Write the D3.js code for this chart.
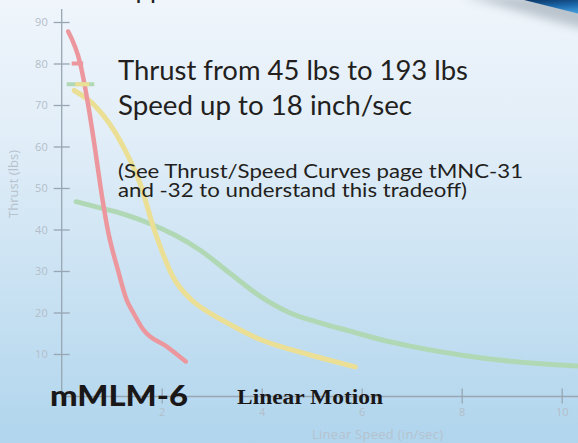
<!DOCTYPE html>
<html>
<head>
<meta charset="utf-8">
<script src="https://cdn.jsdelivr.net/npm/d3@7"></script>
<style>
	html, body { margin: 0; padding: 0; overflow: hidden; }
	.graphic { width: 578px; height: 443px; }
	.tick text { font-family: 'Open Sans', sans-serif; font-size: 11px; fill: #b3bec9; }
	.tick line { stroke: #98a6b3; stroke-width: 1.3; }
</style>
</head>
<body>
<div class="graphic"></div>
<script>
// thrust / speed readings (speed in in/sec, thrust in lbs)
var redSpeed = [0.13, 0.37, 0.53, 0.66, 0.78, 0.92, 1.13, 1.3, 1.43, 1.63, 2.1, 2.48];
var redThrust = [87.7, 80, 70, 60, 50, 40, 30, 23, 20, 15.9, 11.8, 8.2];

var yellowSpeed = [0.25, 0.65, 1.23, 1.57, 1.85, 2.23, 2.6, 3.0, 3.4, 3.97, 4.57, 5.17, 5.87];
var yellowThrust = [73.5, 70, 60, 51, 40, 28.5, 23.0, 19.6, 16.9, 13.5, 11.1, 9.1, 6.9];

var greenSpeed = [0.29, 0.77, 1.27, 1.77, 2.27, 2.77, 3.37, 3.97, 4.57, 5.17, 5.77, 6.37, 6.97, 8.37, 10.33, 10.7];
var greenThrust = [46.7, 45.2, 43.6, 41.4, 38.6, 35.0, 29.4, 23.9, 19.9, 17.5, 15.5, 13.5, 11.9, 9.1, 7.1, 6.9];

// little dashes near the top of the curves
var markThrust = [80, 75, 75];
var markFrom = [0.2, 0.1, 0.27];
var markTo = [0.43, 0.65, 0.55];
var markColor = ['red', 'green', 'yellow'];

var yTicks = [10, 20, 30, 40, 50, 60, 70, 80, 90];
var xTicks = [2, 4, 6, 8, 10];

var infoLines = ['Thrust from 45 lbs to 193 lbs', 'Speed up to 18 inch/sec'];
var noteLines = ['(See Thrust/Speed Curves page tMNC-31', 'and -32 to understand this tradeoff)'];

var chart = function () {

	var graphic = document.querySelector('.graphic');
	var width = 578;
	var height = 443;
	var svg;

	var colors = {
		red: '#ec979d',
		yellow: '#ebdf96',
		green: '#b1d8b5'
	};

	var x = d3.scaleLinear().domain([0, 10]).range([61.7, 561.7]);
	var y = d3.scaleLinear().domain([0, 90]).range([395.5, 22]);

	return {

		init: function () {
			this.setUpPlot();
			this.drawAxes();
			this.drawCurves();
			this.drawText();
		},

		setUpPlot: function () {

			svg = d3.select(graphic).append('svg').attr('width', width).attr('height', height);

			var defs = svg.append('defs');
			var bg = defs.append('linearGradient').attr('id', 'bg')
				.attr('x1', 0).attr('y1', 0).attr('x2', 0).attr('y2', 1);
			bg.append('stop').attr('offset', '0%').attr('stop-color', '#eff5fb');
			bg.append('stop').attr('offset', '30%').attr('stop-color', '#e2eef8');
			bg.append('stop').attr('offset', '100%').attr('stop-color', '#b0d5ed');

			var blue = defs.append('linearGradient').attr('id', 'swoosh')
				.attr('x1', 0).attr('y1', 0).attr('x2', 0.3).attr('y2', 1);
			blue.append('stop').attr('offset', '0%').attr('stop-color', '#0a2f5c');
			blue.append('stop').attr('offset', '60%').attr('stop-color', '#1c68ab');
			blue.append('stop').attr('offset', '100%').attr('stop-color', '#3b93d2');

			defs.append('filter').attr('id', 'blur')
				.attr('x', '-20%').attr('y', '-50%').attr('width', '140%').attr('height', '200%')
				.append('feGaussianBlur').attr('stdDeviation', 5);

			svg.append('rect').attr('width', width).attr('height', height).attr('fill', 'url(#bg)');

			// corner decoration
			svg.append('path')
				.attr('d', 'M462,-4 C505,6 545,20 590,30 L590,-4 Z')
				.attr('fill', '#7d8a96')
				.attr('opacity', 0.45)
				.attr('filter', 'url(#blur)');
			svg.append('path')
				.attr('d', 'M520,-1 C540,4 560,9 580,14 L580,-1 Z')
				.attr('fill', 'url(#swoosh)');
		},

		drawAxes: function () {

			var axisColor = '#98a6b3';

			var yAxis = svg.append('g')
				.attr('transform', 'translate(' + x(0) + ',0)')
				.call(d3.axisLeft(y).tickValues(yTicks).tickSize(8).tickPadding(6));
			yAxis.select('.domain').remove();
			yAxis.selectAll('.tick line').attr('x1', 8);

			var xAxis = svg.append('g')
				.attr('transform', 'translate(0,' + (y(0) + 1) + ')')
				.call(d3.axisBottom(x).tickValues(xTicks).tickSize(7).tickPadding(5));
			xAxis.select('.domain').remove();
			xAxis.selectAll('.tick line').attr('y1', -8);

			svg.append('line')
				.attr('x1', x(0)).attr('x2', x(0))
				.attr('y1', 9).attr('y2', y(0) + 1)
				.attr('stroke', axisColor).attr('stroke-width', 1.3);
			svg.append('line')
				.attr('x1', x(0)).attr('x2', width)
				.attr('y1', y(0) + 1).attr('y2', y(0) + 1)
				.attr('stroke', axisColor).attr('stroke-width', 1.3);

			svg.append('text')
				.attr('transform', 'translate(18,184) rotate(-90)')
				.attr('text-anchor', 'middle')
				.attr('font-family', 'Open Sans, sans-serif')
				.attr('font-size', 13)
				.attr('fill', '#b6c2cd')
				.attr('textLength', 68)
				.text('Thrust (lbs)');

			svg.append('text')
				.attr('x', 377.5).attr('y', 439)
				.attr('text-anchor', 'middle')
				.attr('font-family', 'Open Sans, sans-serif')
				.attr('font-size', 13)
				.attr('fill', '#b6c2cd')
				.attr('textLength', 131)
				.text('Linear Speed (in/sec)');
		},

		drawCurves: function () {

			var line = d3.line()
				.x(function (d) { return x(d[0]); })
				.y(function (d) { return y(d[1]); })
				.curve(d3.curveMonotoneX);

			var series = [
				{ name: 'green', pts: d3.zip(greenSpeed, greenThrust), w: 5 },
				{ name: 'yellow', pts: d3.zip(yellowSpeed, yellowThrust), w: 5 },
				{ name: 'red', pts: d3.zip(redSpeed, redThrust), w: 4.5 }
			];

			svg.append('g').selectAll('path')
				.data(series)
				.enter().append('path')
				.attr('d', function (d) { return line(d.pts); })
				.attr('fill', 'none')
				.attr('stroke', function (d) { return colors[d.name]; })
				.attr('stroke-width', function (d) { return d.w; })
				.attr('stroke-linecap', 'round')
				.attr('stroke-linejoin', 'round');

			svg.append('g').selectAll('line')
				.data(markThrust)
				.enter().append('line')
				.attr('x1', function (d, i) { return x(markFrom[i]); })
				.attr('x2', function (d, i) { return x(markTo[i]); })
				.attr('y1', function (d) { return y(d); })
				.attr('y2', function (d) { return y(d); })
				.attr('stroke', function (d, i) { return colors[markColor[i]]; })
				.attr('stroke-width', 4);
		},

		drawText: function () {

			var dark = '#231f20';
			var sans = 'Lato, sans-serif';

			// heading that runs off the top
			svg.append('text')
				.attr('x', 118).attr('y', -2)
				.attr('font-family', sans).attr('font-size', 26)
				.attr('fill', dark)
				.text('Applications');

			var infoY = [79.5, 115];
			var infoW = [350, 294];
			svg.append('g').selectAll('text')
				.data(infoLines)
				.enter().append('text')
				.attr('x', 118)
				.attr('y', function (d, i) { return infoY[i]; })
				.attr('font-family', sans).attr('font-size', 26)
				.attr('fill', dark)
				.attr('textLength', function (d, i) { return infoW[i]; })
				.attr('lengthAdjust', 'spacingAndGlyphs')
				.text(function (d) { return d; });

			var noteY = [178, 196.7];
			var noteW = [405, 349];
			svg.append('g').selectAll('text')
				.data(noteLines)
				.enter().append('text')
				.attr('x', 118)
				.attr('y', function (d, i) { return noteY[i]; })
				.attr('font-family', sans).attr('font-size', 18.5)
				.attr('fill', dark)
				.attr('textLength', function (d, i) { return noteW[i]; })
				.attr('lengthAdjust', 'spacingAndGlyphs')
				.text(function (d) { return d; });

			svg.append('text')
				.attr('x', 50).attr('y', 406)
				.attr('font-family', sans).attr('font-weight', 900).attr('font-size', 29)
				.attr('fill', '#1a1718')
				.attr('textLength', 138)
				.attr('lengthAdjust', 'spacingAndGlyphs')
				.text('mMLM-6');

			svg.append('text')
				.attr('x', 237).attr('y', 403.5)
				.attr('font-family', 'Liberation Serif, serif').attr('font-weight', 700).attr('font-size', 22)
				.attr('fill', '#1a1718')
				.attr('textLength', 146)
				.attr('lengthAdjust', 'spacingAndGlyphs')
				.text('Linear Motion');
		}
	};
};

chart().init();
</script>
</body>
</html>
